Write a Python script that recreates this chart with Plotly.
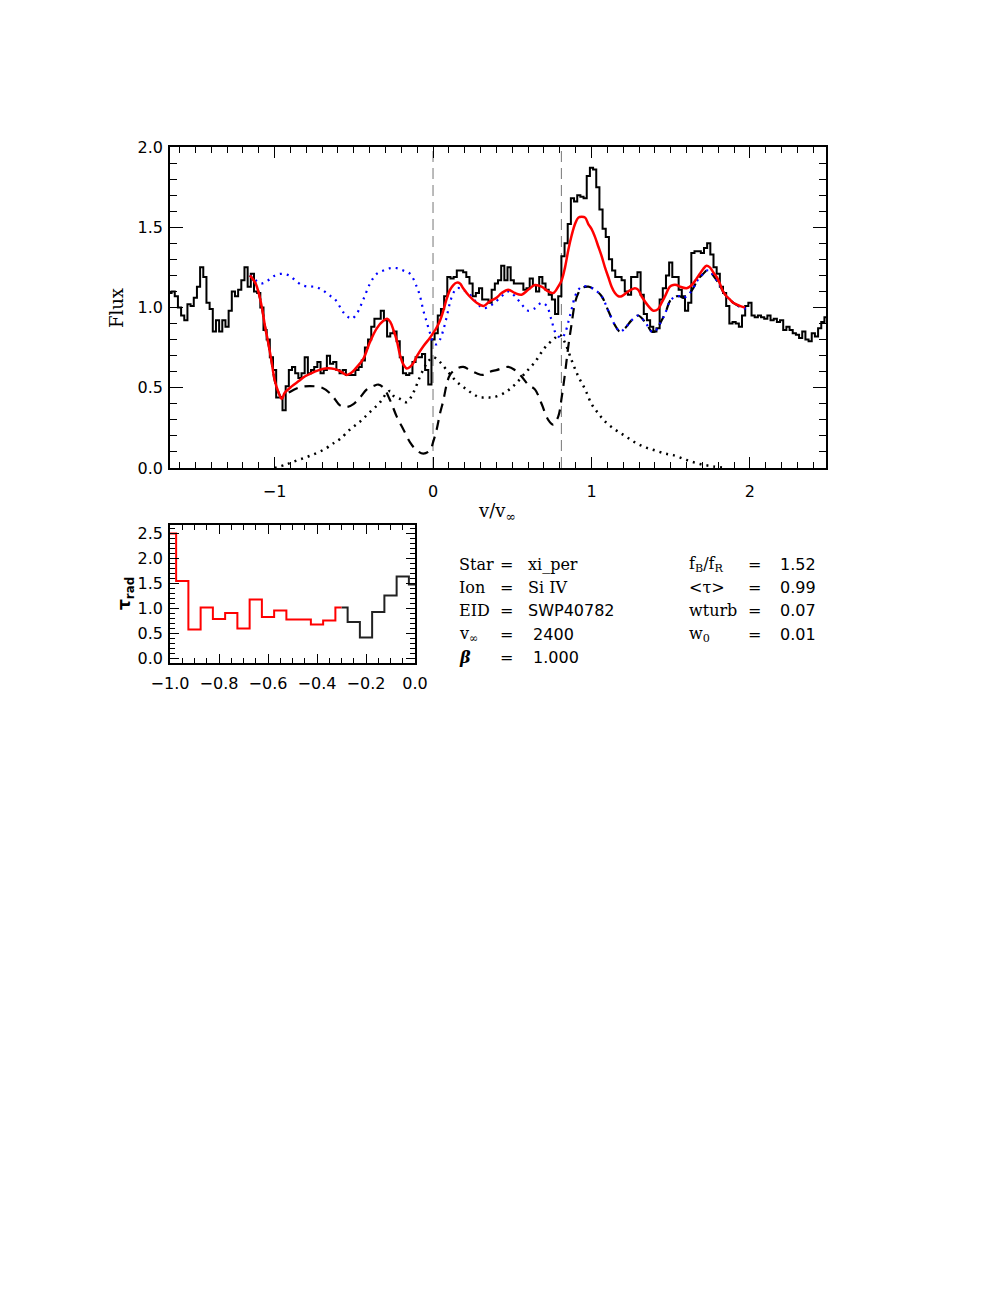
import numpy as np
import plotly.graph_objects as go

# ---- observed spectrum (v/v_inf grid, normalised flux) ----
flux_obs = [
    1.09, 1.10, 1.07, 1.00, 0.95, 0.92, 1.02, 1.01, 1.06, 1.13,
    1.25, 1.19, 1.03, 0.99, 0.85, 0.92, 0.85, 0.92, 0.88, 0.98,
    1.10, 1.07, 1.11, 1.17, 1.25, 1.13, 1.21, 1.10, 1.09, 1.00,
    0.86, 0.80, 0.69, 0.61, 0.44, 0.44, 0.36, 0.51, 0.61, 0.63,
    0.59, 0.56, 0.59, 0.69, 0.59, 0.61, 0.63, 0.66, 0.59, 0.61,
    0.70, 0.65, 0.66,
    0.61, 0.59, 0.61, 0.58, 0.58, 0.58, 0.61, 0.63, 0.67, 0.75,
    0.80, 0.88, 0.93, 0.93, 0.98, 0.92, 0.82, 0.84, 0.85, 0.79,
    0.69, 0.59, 0.58, 0.59, 0.66, 0.69, 0.69, 0.71, 0.61, 0.52,
    0.80, 0.84, 0.95, 0.99, 1.07, 1.19, 1.18, 1.19, 1.23, 1.23,
    1.22, 1.19, 1.15, 1.07, 1.09, 1.12, 1.05, 1.05, 1.03, 1.11,
    1.15, 1.17,
    1.26, 1.17, 1.25, 1.17, 1.15, 1.15, 1.15, 1.11, 1.12, 1.18,
    1.14, 1.10, 1.19, 1.15, 1.11, 1.08, 1.05, 0.96, 1.07, 1.32,
    1.40, 1.52, 1.68, 1.66, 1.70, 1.69, 1.68, 1.82, 1.87, 1.86,
    1.75, 1.61, 1.49, 1.44, 1.30, 1.23, 1.19, 1.19, 1.17, 1.10,
    1.08, 1.19, 1.19, 1.22, 1.08, 0.96, 0.92, 0.88, 0.85, 0.87,
    1.05, 1.12,
    1.20, 1.28, 1.19, 1.19, 1.11, 1.07, 0.98, 1.03, 1.34, 1.35,
    1.35, 1.34, 1.37, 1.40, 1.33, 1.25, 1.21, 1.13, 1.09, 1.01,
    0.90, 0.91, 0.90, 0.88, 0.95, 1.01, 1.03, 0.95, 0.94, 0.95,
    0.94, 0.93, 0.95, 0.92, 0.93, 0.91, 0.92, 0.86, 0.88, 0.86,
    0.84, 0.83, 0.81, 0.85, 0.80, 0.79, 0.84, 0.82, 0.87, 0.91,
    0.94,
]
vel_obs = np.round(-1.66 + 0.02 * np.arange(len(flux_obs)), 2)

# ---- SEI model fit (red) ----
fit_v = [-1.155, -1.12, -1.10, -1.08, -1.06, -1.04, -1.02, -1.00, -0.975, -0.955,
         -0.935, -0.89, -0.85, -0.81, -0.77, -0.72, -0.68, -0.64, -0.60, -0.565,
         -0.545, -0.52, -0.48, -0.44, -0.40, -0.355, -0.31, -0.29, -0.27, -0.25,
         -0.23, -0.21, -0.19, -0.166, -0.145, -0.12, -0.10, -0.06, -0.02, 0.0,
         0.02, 0.045, 0.065, 0.085, 0.107, 0.128, 0.15, 0.17, 0.19, 0.23,
         0.275, 0.32, 0.36, 0.40, 0.433, 0.475, 0.517, 0.559, 0.60, 0.643,
         0.685, 0.727, 0.759, 0.79, 0.812, 0.833, 0.854, 0.875, 0.896, 0.917,
         0.938, 0.96, 0.98, 1.00, 1.022, 1.043, 1.064, 1.085, 1.106, 1.127,
         1.148, 1.17, 1.19, 1.232, 1.274, 1.295, 1.316, 1.358, 1.39, 1.42,
         1.443, 1.464, 1.495, 1.516, 1.537, 1.558, 1.60, 1.621, 1.642, 1.663,
         1.684, 1.705, 1.726, 1.747, 1.768, 1.79, 1.81, 1.83, 1.852, 1.873,
         1.894, 1.915, 1.936, 1.968]
fit_f = [1.20, 1.15, 1.09, 1.00, 0.88, 0.78, 0.67, 0.55, 0.47, 0.43,
         0.47, 0.51, 0.54, 0.57, 0.59, 0.61, 0.62, 0.62, 0.61, 0.59,
         0.58, 0.59, 0.63, 0.68, 0.78, 0.87, 0.92, 0.93, 0.91, 0.86,
         0.80, 0.71, 0.65, 0.62, 0.63, 0.66, 0.70, 0.76, 0.81, 0.84,
         0.87, 0.92, 0.98, 1.05, 1.11, 1.14, 1.155, 1.15, 1.12, 1.07,
         1.03, 1.01, 1.04, 1.06, 1.09, 1.11, 1.09, 1.08, 1.11, 1.14,
         1.13, 1.10, 1.09, 1.13, 1.17, 1.25, 1.36, 1.45, 1.52, 1.56,
         1.565, 1.56, 1.52, 1.49, 1.44, 1.38, 1.32, 1.25, 1.19, 1.13,
         1.09, 1.07, 1.07, 1.10, 1.12, 1.11, 1.07, 1.01, 0.98, 0.99,
         1.03, 1.07, 1.13, 1.14, 1.14, 1.13, 1.12, 1.13, 1.15, 1.18,
         1.21, 1.24, 1.26, 1.25, 1.22, 1.19, 1.15, 1.10, 1.07, 1.05,
         1.03, 1.02, 1.01, 1.00]

# ---- emission-free profile (blue dotted) ----
blue_v = [-1.155, -1.12, -1.08, -1.04, -0.997, -0.955, -0.91, -0.87, -0.828, -0.786,
          -0.745, -0.70, -0.66, -0.618, -0.566, -0.535, -0.513, -0.482, -0.44, -0.397,
          -0.355, -0.313, -0.27, -0.229, -0.187, -0.145, -0.103, -0.082, -0.061, -0.04,
          -0.019, 0.002, 0.023, 0.044, 0.065, 0.086, 0.107, 0.128, 0.15, 0.17,
          0.191, 0.233, 0.275, 0.317, 0.36, 0.39, 0.433, 0.475, 0.517, 0.559,
          0.60, 0.643, 0.685, 0.717, 0.748, 0.769, 0.79, 0.812, 0.833, 0.854,
          0.875, 0.896, 0.917, 0.938, 0.98, 1.022, 1.064, 1.106, 1.148, 1.18,
          1.211, 1.253, 1.295, 1.337, 1.358, 1.379, 1.40, 1.422, 1.443, 1.464,
          1.495, 1.516, 1.537, 1.558, 1.579, 1.60, 1.621, 1.642, 1.663, 1.684,
          1.705, 1.726, 1.747, 1.768, 1.79, 1.81, 1.83, 1.852, 1.873, 1.894,
          1.926, 1.957, 1.975]
blue_f = [1.20, 1.17, 1.15, 1.17, 1.20, 1.21, 1.20, 1.17, 1.14, 1.13,
          1.13, 1.11, 1.08, 1.05, 0.97, 0.94, 0.93, 0.96, 1.05, 1.15,
          1.21, 1.23, 1.245, 1.245, 1.23, 1.21, 1.13, 1.07, 0.98, 0.91,
          0.84, 0.78, 0.77, 0.80, 0.86, 0.94, 1.03, 1.09, 1.12, 1.12,
          1.11, 1.08, 1.03, 0.995, 1.01, 1.03, 1.07, 1.10, 1.07, 1.02,
          0.98, 0.995, 1.03, 1.01, 0.92, 0.85, 0.82, 0.81, 0.84, 0.91,
          0.99, 1.07, 1.11, 1.13, 1.13, 1.11, 1.07, 0.98, 0.89, 0.85,
          0.87, 0.92, 0.95, 0.91, 0.88, 0.85, 0.85, 0.88, 0.92, 0.96,
          1.04, 1.06, 1.07, 1.07, 1.06, 1.07, 1.09, 1.12, 1.16, 1.19,
          1.21, 1.23, 1.23, 1.20, 1.17, 1.14, 1.10, 1.07, 1.05, 1.03,
          1.01, 0.995, 0.995]

# ---- absorption component (black dashed) ----
abs_v = [-1.155, -1.12, -1.10, -1.08, -1.06, -1.04, -1.02, -1.00, -0.975, -0.955,
         -0.91, -0.85, -0.78, -0.70, -0.65, -0.62, -0.587, -0.545, -0.50, -0.46,
         -0.418, -0.376, -0.345, -0.313, -0.27, -0.229, -0.187, -0.145, -0.103, -0.061,
         -0.019, 0.0, 0.023, 0.044, 0.065, 0.086, 0.107, 0.15, 0.191, 0.233,
         0.275, 0.317, 0.36, 0.40, 0.475, 0.517, 0.559, 0.60, 0.643, 0.685,
         0.727, 0.759, 0.79, 0.812, 0.833, 0.854, 0.875, 0.896, 0.917, 0.938,
         0.98, 1.022, 1.064, 1.106, 1.148, 1.18, 1.211, 1.253, 1.295, 1.337,
         1.358, 1.379, 1.40, 1.422, 1.443, 1.464, 1.495, 1.516, 1.537, 1.558,
         1.579, 1.60, 1.621, 1.642, 1.663, 1.684, 1.705, 1.726, 1.747, 1.768,
         1.79, 1.81, 1.83, 1.852, 1.873, 1.894, 1.926, 1.957, 1.975]
abs_f = [1.20, 1.15, 1.09, 1.00, 0.88, 0.78, 0.67, 0.55, 0.47, 0.44,
         0.47, 0.50, 0.51, 0.50, 0.465, 0.43, 0.39, 0.38, 0.40, 0.44,
         0.49, 0.51, 0.52, 0.50, 0.42, 0.32, 0.24, 0.16, 0.11, 0.09,
         0.11, 0.16, 0.24, 0.34, 0.42, 0.52, 0.58, 0.62, 0.63, 0.61,
         0.59, 0.58, 0.60, 0.61, 0.63, 0.61, 0.57, 0.52, 0.49, 0.40,
         0.30, 0.27, 0.32, 0.44, 0.59, 0.76, 0.90, 1.03, 1.09, 1.12,
         1.13, 1.11, 1.07, 0.98, 0.89, 0.85, 0.87, 0.92, 0.95, 0.91,
         0.88, 0.85, 0.85, 0.88, 0.92, 0.96, 1.04, 1.06, 1.07, 1.07,
         1.06, 1.07, 1.09, 1.12, 1.16, 1.19, 1.21, 1.23, 1.23, 1.20,
         1.17, 1.14, 1.10, 1.07, 1.05, 1.03, 1.01, 0.995, 0.995]

# ---- emission component (black dotted) ----
emis_v = [-1.00, -0.934, -0.85, -0.766, -0.68, -0.62, -0.587, -0.524, -0.46, -0.397,
          -0.334, -0.29, -0.27, -0.25, -0.208, -0.166, -0.124, -0.082, -0.04, 0.0,
          0.044, 0.086, 0.128, 0.17, 0.212, 0.254, 0.296, 0.338, 0.38, 0.454,
          0.517, 0.58, 0.643, 0.706, 0.769, 0.80, 0.833, 0.875, 0.917, 0.96,
          1.0, 1.043, 1.085, 1.148, 1.211, 1.274, 1.337, 1.40, 1.464, 1.516,
          1.60, 1.684, 1.768, 1.852]
emis_f = [0.0, 0.02, 0.05, 0.08, 0.12, 0.16, 0.18, 0.24, 0.29, 0.35,
          0.41, 0.47, 0.48, 0.45, 0.43, 0.41, 0.47, 0.57, 0.65, 0.69,
          0.66, 0.61, 0.56, 0.52, 0.49, 0.46, 0.44, 0.44, 0.44, 0.47,
          0.52, 0.59, 0.66, 0.75, 0.81, 0.83, 0.78, 0.67, 0.57, 0.49,
          0.40, 0.34, 0.29, 0.24, 0.20, 0.16, 0.13, 0.11, 0.09, 0.08,
          0.05, 0.025, 0.01, 0.0]

ref_lines = [0.0, 0.81]

# ---- radial optical depth histogram ----
tau_v = [-1.00, -0.95, -0.90, -0.85, -0.80, -0.75, -0.70, -0.65, -0.60, -0.55, -0.50,
         -0.45, -0.40, -0.35, -0.30, -0.25, -0.20, -0.15, -0.10, -0.05, 0.00]
tau_rad = [2.50, 1.55, 0.58, 1.02, 0.79, 0.91, 0.60, 1.18, 0.83, 0.96, 0.78,
           0.78, 0.68, 0.76, 1.02, 0.73, 0.42, 0.93, 1.26, 1.64, 1.48]
tau_fit_end = 14  # last bin drawn in red

W, H = 997, 1290
PAGE_OFFSET = 8  # the html body margin shifts the figure by this many pixels


def px(x):
    return (x - PAGE_OFFSET) / W


def py(y):
    return 1 - (y - PAGE_OFFSET) / H


SERIF = "DejaVu Serif"
SANS = "DejaVu Sans"

fig = go.Figure()

# vertical reference lines
for v0 in ref_lines:
    fig.add_trace(go.Scatter(
        x=[v0, v0], y=[0, 2], mode="lines",
        line=dict(color="#777777", width=1, dash="11px,6px"),
        xaxis="x", yaxis="y", showlegend=False, hoverinfo="skip"))

fig.add_trace(go.Scatter(
    x=vel_obs, y=flux_obs, mode="lines", line_shape="hvh",
    line=dict(color="black", width=2), xaxis="x", yaxis="y", showlegend=False))
fig.add_trace(go.Scatter(
    x=emis_v, y=emis_f, mode="lines", line_shape="spline",
    line=dict(color="black", width=2.5, dash="2px,5px"), xaxis="x", yaxis="y",
    showlegend=False))
fig.add_trace(go.Scatter(
    x=abs_v, y=abs_f, mode="lines", line_shape="spline",
    line=dict(color="black", width=2.2, dash="10px,7px"), xaxis="x", yaxis="y",
    showlegend=False))
fig.add_trace(go.Scatter(
    x=blue_v, y=blue_f, mode="lines", line_shape="spline",
    line=dict(color="#0000ff", width=2.2, dash="2px,5px"), xaxis="x", yaxis="y",
    showlegend=False))
fig.add_trace(go.Scatter(
    x=fit_v, y=fit_f, mode="lines", line_shape="spline",
    line=dict(color="#ff0000", width=2.5), xaxis="x", yaxis="y", showlegend=False))

# tau histogram: red over fitted range, black beyond
fig.add_trace(go.Scatter(
    x=tau_v[tau_fit_end:], y=tau_rad[tau_fit_end:], mode="lines", line_shape="hvh",
    line=dict(color="#222222", width=2), xaxis="x2", yaxis="y2", showlegend=False))
fig.add_trace(go.Scatter(
    x=tau_v[:tau_fit_end + 1], y=tau_rad[:tau_fit_end + 1], mode="lines",
    line_shape="hvh", line=dict(color="#ff0000", width=2), xaxis="x2", yaxis="y2",
    showlegend=False))

axis_common = dict(
    showline=True, linecolor="black", linewidth=1.5, mirror="allticks",
    ticks="inside", tickcolor="black", tickwidth=1.2, showgrid=False,
    zeroline=False, automargin=False,
    tickfont=dict(family=SANS, size=16, color="black"),
)

fig.update_layout(
    width=W, height=H,
    margin=dict(l=0, r=0, t=0, b=0),
    paper_bgcolor="white", plot_bgcolor="white",
    xaxis=dict(
        domain=[px(170), px(826)], range=[-1.66, 2.48], anchor="y",
        tickvals=[-1, 0, 1, 2], ticklen=11, ticklabelstandoff=8,
        minor=dict(dtick=0.1, tick0=0, ticks="inside", ticklen=6,
                   tickcolor="black", tickwidth=1),
        **axis_common),
    yaxis=dict(
        domain=[py(468), py(147)], range=[0, 2.0], anchor="x",
        tickvals=[0, 0.5, 1.0, 1.5, 2.0], tickformat=".1f", ticklen=13,
        ticklabelstandoff=2,
        minor=dict(dtick=0.1, tick0=0, ticks="inside", ticklen=7,
                   tickcolor="black", tickwidth=1),
        **axis_common),
    xaxis2=dict(
        domain=[px(170), px(415)], range=[-1.0, 0.0], anchor="y2",
        tickvals=[-1.0, -0.8, -0.6, -0.4, -0.2, 0.0], tickformat=".1f", ticklen=9,
        ticklabelstandoff=5,
        minor=dict(dtick=0.05, tick0=0, ticks="inside", ticklen=5,
                   tickcolor="black", tickwidth=1),
        **axis_common),
    yaxis2=dict(
        domain=[py(663), py(525)], range=[-0.09, 2.67], anchor="x2",
        tickvals=[0, 0.5, 1.0, 1.5, 2.0, 2.5], tickformat=".1f", ticklen=9,
        ticklabelstandoff=2,
        minor=dict(dtick=0.1, tick0=0, ticks="inside", ticklen=5,
                   tickcolor="black", tickwidth=1),
        **axis_common),
)

ann = []
# axis titles
ann.append(dict(x=px(117), y=py(308), text="Flux", textangle=-90,
                font=dict(family=SERIF, size=18)))
ann.append(dict(x=px(497), y=py(512), text="v/v<sub>∞</sub>",
                font=dict(family=SERIF, size=18)))
ann.append(dict(x=px(125), y=py(594), text="<b>τ</b><sub><b>rad</b></sub>",
                textangle=-90, font=dict(family=SANS, size=17)))

# parameter block
left_rows = [("Star", "xi_per"), ("Ion", "Si IV"), ("EID", "SWP40782"),
             ("v<sub>∞</sub>", " 2400"), ("<i><b>β</b></i>", " 1.000")]
right_rows = [("f<sub>B</sub>/f<sub>R</sub>", "1.52"), ("&lt;τ&gt;", "0.99"),
              ("wturb", "0.07"), ("w<sub>0</sub>", "0.01")]
row_y = [564, 587, 610, 634, 657]

for (lab, val), yy in zip(left_rows, row_y):
    ann.append(dict(x=px(457), y=py(yy), text=lab, xanchor="left",
                    font=dict(family=SERIF, size=16)))
    ann.append(dict(x=px(507), y=py(yy), text="=", xanchor="center",
                    font=dict(family=SANS, size=16)))
    ann.append(dict(x=px(526), y=py(yy), text=val, xanchor="left",
                    font=dict(family=SERIF if val in ("xi_per", "Si IV") else SANS,
                              size=16)))
for (lab, val), yy in zip(right_rows, row_y):
    ann.append(dict(x=px(687), y=py(yy), text=lab, xanchor="left",
                    font=dict(family=SERIF, size=16)))
    ann.append(dict(x=px(754), y=py(yy), text="=", xanchor="center",
                    font=dict(family=SANS, size=16)))
    ann.append(dict(x=px(818), y=py(yy), text=val, xanchor="right",
                    font=dict(family=SANS, size=16)))

for a in ann:
    a.setdefault("xanchor", "center")
    a.update(xref="paper", yref="paper", yanchor="middle", showarrow=False)
    a["font"]["color"] = "black"

fig.update_layout(annotations=ann)

fig.write_html("out.html")
